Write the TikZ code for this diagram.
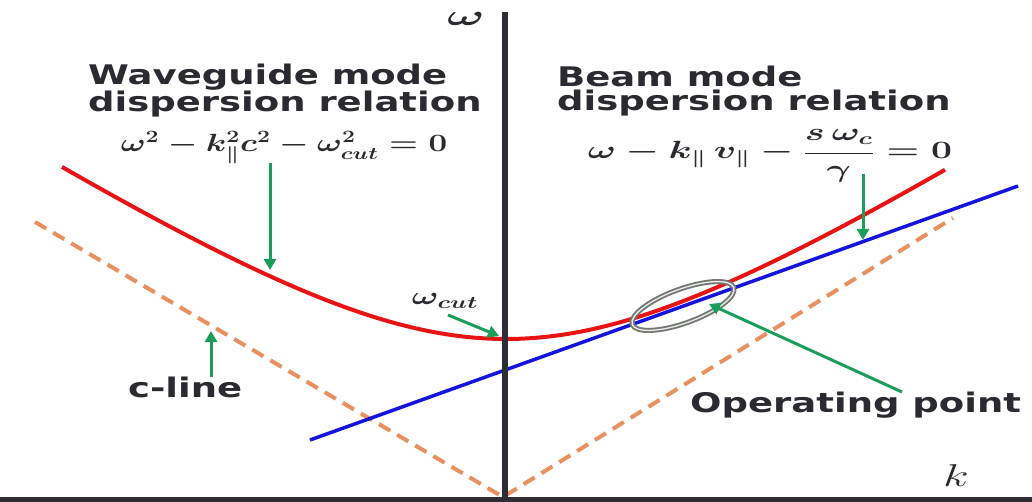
\documentclass[tikz,border=0pt]{standalone}
\usepackage{fontspec}
\usepackage{graphicx}
\usetikzlibrary{arrows.meta}
\newfontfamily\labelfont{DejaVu Sans Bold}
\definecolor{axisgray}{HTML}{2D2D33}
\definecolor{textgray}{HTML}{2A2A30}
\definecolor{curvered}{HTML}{E81414}
\definecolor{lineblue}{HTML}{1414DC}
\definecolor{dashorange}{HTML}{E8905E}
\definecolor{arrowgreen}{HTML}{1A9E5A}
\definecolor{ellgray}{HTML}{737873}
\newcommand{\wide}[1]{\scalebox{1.37}[1]{#1}}
\begin{document}
\begin{tikzpicture}[x=1pt,y=-1pt,
  axisline/.style={draw=axisgray,line width=5.5pt},
  greenarrow/.style={draw=arrowgreen,line width=3pt,-{Triangle[length=11pt,width=12pt]}},
  title/.style={font=\labelfont\fontsize{27}{24}\selectfont,text=textgray,inner sep=0pt,anchor=base west,align=left},
  mathlbl/.style={font=\fontsize{24}{28}\selectfont,text=textgray,inner sep=0pt},
  cline/.style={draw=dashorange,line width=4pt,dash pattern=on 13pt off 8pt},
]
\useasboundingbox (0,0) rectangle (1032,502);
\fill[white] (0,0) rectangle (1032,502);

% c-lines
\coordinate (cl) at (35,222);
\coordinate (c0) at (503,497);
\coordinate (cr) at (953,218);
\draw[cline] (cl) -- (c0) -- (cr);

% waveguide mode (hyperbola)
\draw[draw=curvered,line width=4pt] plot[domain=62:945,samples=120,smooth]
  (\x,{495-100*sqrt(1.56*1.56+(0.0065*(\x-506))*(0.0065*(\x-506)))});

% beam mode line
\coordinate (b1) at (310,440);
\coordinate (b2) at (1018,186);
\draw[draw=lineblue,line width=3.5pt] (b1) -- (b2);

% axes
\coordinate (yb) at (505,500);
\coordinate (yt) at (505,12);
\draw[axisline] (yb) -- (yt);
\coordinate (xl) at (0,499.5);
\coordinate (xr) at (1032,499.5);
\draw[axisline,line width=5pt] (xl) -- (xr);

% operating point ellipse
\coordinate (op) at (683,306);
\draw[draw=ellgray,line width=1.9pt,double=white!85!gray,double distance=1.3pt,rotate around={20:(op)}]
  (op) ellipse [x radius=54, y radius=17];

% texts
\node[title] (wg) at (88,112) {\wide{Waveguide mode}\\\wide{dispersion relation}};
\node[title] (bm) at (557,111) {\wide{Beam mode}\\\wide{dispersion relation}};
\node[title] (cl1) at (128,397) {\wide{c-line}};
\node[title] (opl) at (690,412) {\wide{Operating point}};

\node[mathlbl,anchor=base] (eq1) at (284,152) {\scalebox{1.33}[1]{\boldmath$\omega^{2}-k_{\parallel}^{2}c^{2}-\omega_{cut}^{2}=0$}};
\node[mathlbl,anchor=base] (eq2) at (770,159) {\scalebox{1.5}[1]{\boldmath$\displaystyle\omega - k_{\parallel}\,v_{\parallel} - \frac{s\,\omega_{c}}{\gamma} = 0$}};
\node[mathlbl] (wlab) at (466,18.5) {\scalebox{2.0}[1.18]{\boldmath$\omega$}};
\node[mathlbl] (wcut) at (445,301) {\scalebox{1.43}[1]{\boldmath$\omega_{cut}$}};
\node[mathlbl] (klab) at (956,476) {\scalebox{1.9}[1.27]{$k$}};

% green arrows
\coordinate (a1s) at (270,163); \coordinate (a1e) at (270,270);
\draw[greenarrow] (a1s) -- (a1e);
\coordinate (a2s) at (448,315); \coordinate (a2e) at (499,336);
\draw[greenarrow] (a2s) -- (a2e);
\coordinate (a3s) at (211,377); \coordinate (a3e) at (211,331);
\draw[greenarrow] (a3s) -- (a3e);
\coordinate (a4s) at (863,174); \coordinate (a4e) at (863,240);
\draw[greenarrow] (a4s) -- (a4e);
\coordinate (a5s) at (902,392); \coordinate (a5e) at (709,304);
\draw[greenarrow] (a5s) -- (a5e);
\end{tikzpicture}
\end{document}
